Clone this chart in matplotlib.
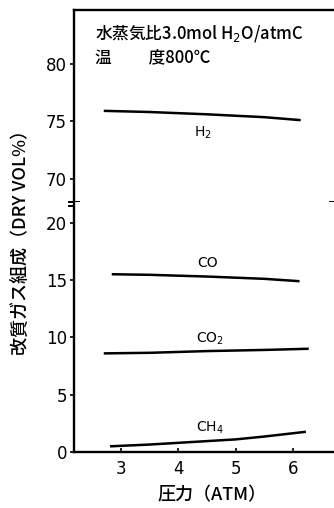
import matplotlib
matplotlib.use("Agg")
import matplotlib.pyplot as plt

plt.rcParams['font.family'] = ['DejaVu Sans']
jp = ['Noto Sans CJK JP', 'DejaVu Sans']

# data
p_h2 = [2.72, 3.5, 4.5, 5.5, 6.11]
h2 = [75.9, 75.8, 75.6, 75.35, 75.1]
p_co = [2.86, 3.5, 4.5, 5.5, 6.09]
co = [15.5, 15.45, 15.3, 15.1, 14.9]
p_co2 = [2.72, 3.5, 4.5, 5.5, 6.25]
co2 = [8.6, 8.65, 8.8, 8.9, 9.0]
p_ch4 = [2.83, 3.5, 4.0, 4.5, 5.0, 5.5, 6.2]
ch4 = [0.5, 0.65, 0.8, 0.95, 1.1, 1.35, 1.75]

upper_ticks = [70, 75, 80]
lower_ticks = [0, 5, 10, 15, 20]
x_ticks = [3, 4, 5, 6]

fig = plt.figure(figsize=(3.34, 5.08), dpi=100)
left = 74 / 334
width = (335 - 74) / 334
ax_top = fig.add_axes([left, 1 - 202 / 508, width, 192 / 508])
ax_bot = fig.add_axes([left, 1 - 452 / 508, width, 250 / 508])

for ax in (ax_top, ax_bot):
    ax.set_xlim(2.18, 6.73)
    for s in ax.spines.values():
        s.set_linewidth(1.7)
    ax.spines['right'].set_visible(False)
    ax.tick_params(axis='y', direction='out', length=3, width=1.2, labelsize=12, pad=2)
    ax.tick_params(axis='y', right=True)

ax_top.set_ylim(67.95, 84.7)
ax_bot.set_ylim(0, 21.8)
ax_top.spines['bottom'].set_visible(False)
ax_bot.spines['top'].set_visible(False)
ax_top.set_yticks(upper_ticks)
ax_bot.set_yticks(lower_ticks)
ax_top.set_xticks([])
ax_bot.set_xticks(x_ticks)
ax_bot.tick_params(axis='x', direction='in', length=3, width=1.2, labelsize=12, pad=6)

lw = 1.8
ax_top.plot(p_h2, h2, color='black', lw=lw)
ax_bot.plot(p_co, co, color='black', lw=lw)
ax_bot.plot(p_co2, co2, color='black', lw=lw)
ax_bot.plot(p_ch4, ch4, color='black', lw=lw)

ax_top.text(4.43, 74.0, 'H$_2$', ha='center', va='center', fontsize=10)
ax_bot.text(4.5, 16.5, 'CO', ha='center', va='center', fontsize=10)
ax_bot.text(4.55, 9.9, 'CO$_2$', ha='center', va='center', fontsize=10)
ax_bot.text(4.55, 2.1, 'CH$_4$', ha='center', va='center', fontsize=10)

# break marks on the axis
for xa in (0.0, 1.0):
    for ya in (0.0, -0.022):
        ax_top.plot([xa - 0.018, xa + 0.018], [ya, ya], transform=ax_top.transAxes,
                    color='black', lw=1.4, clip_on=False)

fig.text(95 / 334, 1 - 33 / 508, '水蒸気比3.0mol H$_2$O/atmC', family=jp,
         fontsize=12, fontweight='medium', ha='left', va='center')
fig.text(95 / 334, 1 - 57 / 508, '温\u3000\u3000 度800℃', family=jp,
         fontsize=12, fontweight='medium', ha='left', va='center')

fig.text(22 / 334, 1 - 238 / 508, '改質ガス組成（DRY VOL%）', family=jp,
         fontsize=13, fontweight='medium', rotation=90, ha='center', va='center')
fig.text(212 / 334, 1 - 495 / 508, '圧力（ATM）', family=jp,
         fontsize=13, fontweight='medium', ha='center', va='center')

fig.savefig('out.png', dpi=100)
